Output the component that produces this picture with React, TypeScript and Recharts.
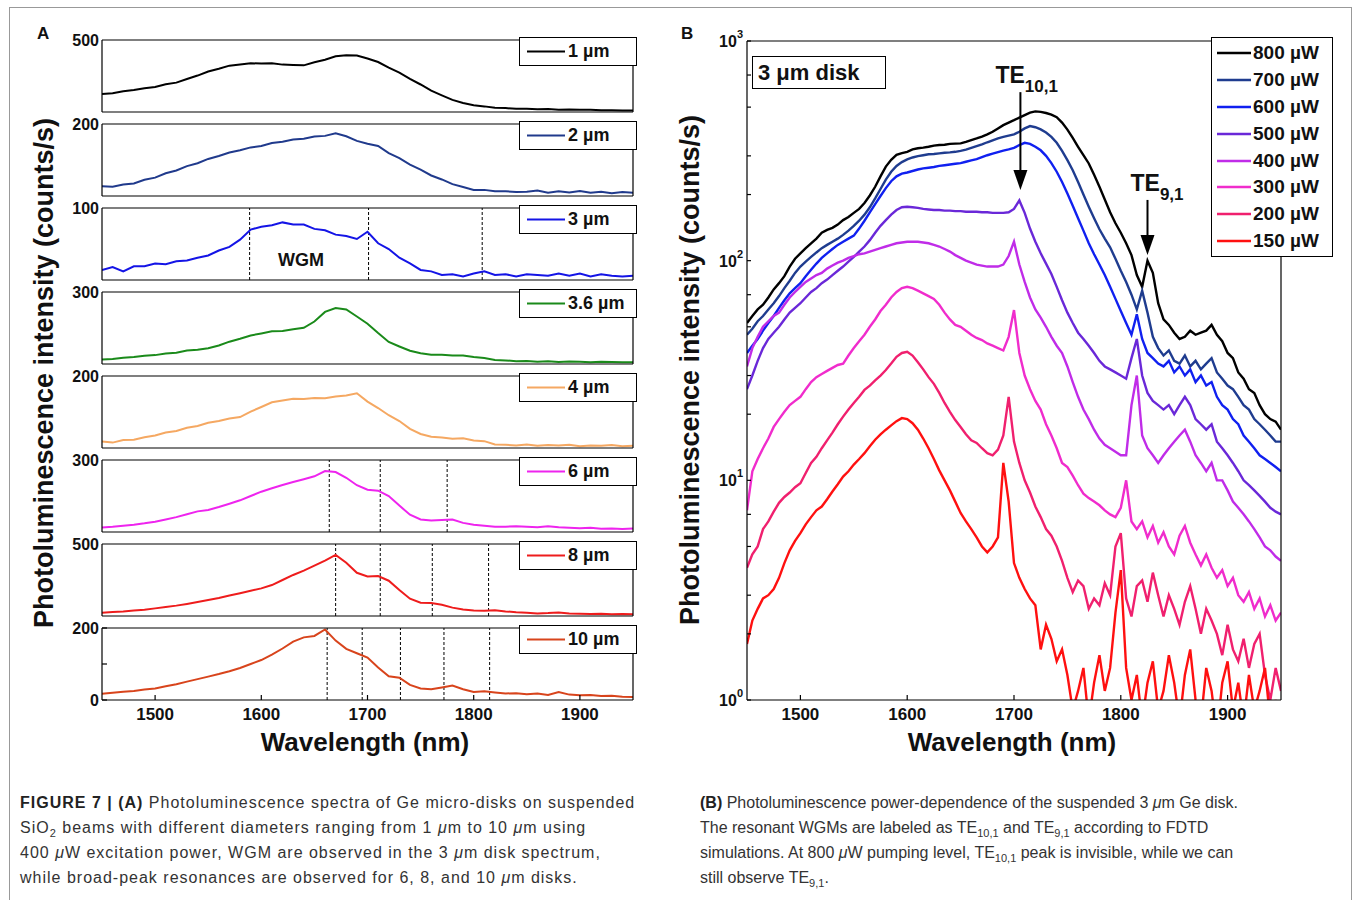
import React from 'react';
import { LineChart, Line, XAxis, YAxis, ReferenceLine, ReferenceDot, Legend } from 'recharts';

const FONT = '"Liberation Sans", Arial, Helvetica, sans-serif';

// ---------- Panel A data (wavelength grid, nm) ----------
const wavelengthsA = [
  1450, 1460, 1470, 1480, 1490, 1500, 1510, 1520, 1530, 1540,
  1550, 1560, 1570, 1580, 1590, 1600, 1610, 1620, 1630, 1640,
  1650, 1660, 1670, 1680, 1690, 1700, 1710, 1720, 1730, 1740,
  1750, 1760, 1770, 1780, 1790, 1800, 1810, 1820, 1830, 1840,
  1850, 1860, 1870, 1880, 1890, 1900, 1910, 1920, 1930, 1940,
  1950,
];
const disk1um = [
  125, 131, 144, 153, 165, 174, 192, 204, 229, 253,
  281, 300, 322, 330, 339, 336, 338, 329, 326, 324,
  346, 363, 387, 394, 392, 371, 347, 308, 274, 230,
  191, 148, 116, 84, 63, 47, 39, 29, 27, 22,
  23, 19, 20, 16, 18, 15, 15, 12, 13, 10,
  11,
];
const disk2um = [
  27, 26, 32, 35, 45, 51, 63, 71, 83, 91,
  103, 111, 121, 127, 135, 139, 147, 151, 157, 159,
  165, 167, 174, 166, 153, 145, 139, 119, 105, 87,
  73, 57, 46, 33, 25, 17, 17, 13, 13, 11,
  12, 15, 9, 13, 10, 14, 9, 12, 8, 11,
  9,
];
const disk3um = [
  14, 18, 12, 19, 19, 23, 22, 26, 27, 31,
  34, 41, 46, 56, 70, 74, 76, 80, 77, 77,
  71, 69, 63, 61, 57, 67, 51, 43, 31, 23,
  14, 12, 7, 8, 5, 9, 12, 7, 8, 5,
  8, 7, 6, 9, 6, 9, 5, 8, 6, 5,
  6,
];
const disk36um = [
  19, 21, 26, 29, 34, 37, 44, 47, 56, 59,
  66, 77, 93, 105, 119, 127, 136, 138, 145, 151,
  177, 217, 233, 227, 198, 168, 129, 92, 73, 55,
  45, 39, 39, 35, 35, 29, 25, 17, 15, 11,
  12, 9, 11, 8, 10, 9, 7, 9, 8, 7,
  7,
];
const disk4um = [
  18, 15, 22, 23, 30, 35, 43, 47, 56, 61,
  70, 75, 82, 86, 101, 114, 127, 132, 137, 136,
  139, 138, 143, 146, 152, 129, 111, 91, 75, 53,
  39, 31, 29, 26, 27, 21, 19, 10, 9, 7,
  10, 6, 8, 7, 9, 5, 7, 6, 8, 5,
  6,
];
const disk6um = [
  19, 22, 26, 30, 36, 43, 52, 62, 74, 86,
  92, 104, 118, 132, 150, 168, 182, 196, 208, 220,
  232, 254, 250, 226, 195, 176, 172, 150, 110, 72,
  52, 48, 50, 52, 38, 30, 26, 22, 22, 24,
  22, 20, 24, 20, 18, 16, 18, 14, 15, 13,
  15,
];
const disk8um = [
  23, 28, 32, 38, 44, 53, 62, 72, 84, 97,
  111, 125, 142, 158, 175, 192, 215, 250, 285, 315,
  350, 385, 424, 370, 300, 275, 278, 245, 180, 120,
  92, 90, 78, 58, 45, 38, 36, 40, 32, 26,
  22, 18, 20, 24, 18, 16, 14, 16, 13, 14,
  12,
];
const disk10um = [
  17, 20, 23, 25, 29, 32, 38, 44, 51, 58,
  65, 72, 80, 89, 100, 111, 126, 143, 162, 174,
  178, 196, 165, 142, 130, 118, 90, 66, 62, 42,
  32, 30, 35, 40, 30, 22, 24, 21, 18, 19,
  16, 18, 14, 22, 15, 13, 14, 11, 12, 9,
  8,
];
const diskLabels = ['1 µm', '2 µm', '3 µm', '3.6 µm', '4 µm', '6 µm', '8 µm', '10 µm'];
const diskSeries = [disk1um, disk2um, disk3um, disk36um, disk4um, disk6um, disk8um, disk10um];
const diskTopTicks = [500, 200, 100, 300, 200, 300, 500, 200];
const diskResonances = [
  [], [], [1589, 1701, 1808], [], [],
  [1664, 1712, 1775], [1670, 1712, 1761, 1814], [1662, 1695, 1731, 1772, 1815],
];
const wavelengthTicks = [1500, 1600, 1700, 1800, 1900];

// ---------- Panel B data (3 µm disk, power dependence) ----------
const wavelengthsB = [
  1450, 1455, 1460, 1465, 1470, 1475, 1480, 1485, 1490, 1495,
  1500, 1505, 1510, 1515, 1520, 1525, 1530, 1535, 1540, 1545,
  1550, 1555, 1560, 1565, 1570, 1575, 1580, 1585, 1590, 1595,
  1600, 1605, 1610, 1615, 1620, 1625, 1630, 1635, 1640, 1645,
  1650, 1655, 1660, 1665, 1670, 1675, 1680, 1685, 1690, 1695,
  1700, 1705, 1710, 1715, 1720, 1725, 1730, 1735, 1740, 1745,
  1750, 1755, 1760, 1765, 1770, 1775, 1780, 1785, 1790, 1795,
  1800, 1805, 1810, 1815, 1820, 1825, 1830, 1835, 1840, 1845,
  1850, 1855, 1860, 1865, 1870, 1875, 1880, 1885, 1890, 1895,
  1900, 1905, 1910, 1915, 1920, 1925, 1930, 1935, 1940, 1945,
  1950,
];
const pump800 = [
  52, 56, 60, 63, 68, 74, 79, 85, 94, 102,
  108, 114, 120, 126, 134, 138, 141, 146, 153, 158,
  165, 172, 183, 198, 217, 242, 268, 288, 303, 309,
  313, 321, 325, 327, 330, 334, 336, 337, 340, 341,
  342, 347, 354, 360, 367, 376, 386, 400, 414, 425,
  436, 448, 460, 472, 478, 476, 470, 462, 450, 425,
  395, 362, 330, 302, 277, 246, 217, 190, 166, 148,
  134, 120, 106, 86, 76, 100, 88, 64, 54, 51,
  47, 44, 45, 48, 46, 47, 48, 51, 46, 43,
  38, 36, 31, 29, 26, 25, 22, 20, 19, 18.5,
  17,
];
const pump700 = [
  46, 49, 53, 56, 60, 64, 69, 75, 81, 88,
  94, 99, 104, 109, 114, 118, 122, 126, 131, 137,
  144, 152, 162, 175, 192, 212, 234, 254, 270, 281,
  289, 295, 299, 302, 305, 306, 308, 310, 311, 313,
  316, 320, 326, 332, 338, 346, 353, 360, 366, 371,
  376, 386, 400, 410, 405, 396, 383, 366, 344, 316,
  287, 258, 228, 200, 176, 156, 139, 126, 115, 102,
  90, 80, 70, 60, 73, 58, 45, 40, 37, 39,
  35, 34, 37, 33, 35, 32, 34, 36, 31, 29,
  27, 26, 24, 22, 21, 19, 18, 17, 16, 15,
  15,
];
const pump600 = [
  38, 41, 44, 48, 52, 56, 61, 66, 71, 75,
  79, 85, 91, 97, 103, 108, 113, 118, 122, 126,
  130, 140, 152, 166, 181, 197, 214, 230, 242, 249,
  252, 256, 260, 263, 265, 267, 270, 272, 274, 276,
  278, 282, 286, 290, 296, 302, 307, 312, 317, 321,
  326, 336, 344, 340, 330, 318, 300, 278, 254, 228,
  202, 178, 156, 137, 120, 107, 96, 86, 76, 67,
  59, 52, 46, 57, 44, 38, 36, 34, 33, 35,
  31, 33, 30, 32, 28, 30, 27, 28, 24, 22,
  21, 19, 18, 16, 15, 14, 13, 12.5, 12, 11.5,
  11,
];
const pump500 = [
  26, 30, 35, 40, 44, 47, 50, 54, 58, 61,
  64, 68, 72, 75, 79, 82, 86, 90, 94, 99,
  104, 110, 116, 124, 134, 144, 153, 162, 170, 175,
  176, 175, 174, 172, 171, 170, 170, 169, 169, 168,
  168, 167, 167, 167, 166, 166, 165, 165, 165, 166,
  172, 188, 165, 140, 122, 108, 97, 87, 76, 66,
  58, 52, 47, 44, 41, 38, 35, 33, 32, 31,
  30, 29, 36, 44, 30, 25, 23, 22, 21, 22,
  20, 22, 24, 22, 19, 18, 17, 18, 15, 14,
  13, 12, 11, 10, 9.5, 9, 8.5, 8, 7.5, 7.2,
  7,
];
const pump400 = [
  33, 40, 45, 50, 53, 56, 58, 63, 68, 72,
  76, 80, 83, 86, 88, 92, 95, 98, 100, 103,
  105, 107, 108, 110, 112, 114, 116, 118, 120, 121,
  122, 122, 122, 121, 120, 118, 116, 113, 110, 106,
  103, 100, 98, 96, 95, 94, 94, 94, 96, 105,
  122, 96, 80, 68, 60, 55, 50, 45, 41, 38,
  33, 28, 24, 21, 19, 17, 15.5, 14.5, 14, 13.5,
  13, 13, 22, 30, 16, 14, 13, 12, 13, 14,
  15, 16, 17, 15, 13, 12, 11, 12, 10, 10,
  9, 8, 7.5, 7, 6.5, 6, 5.5, 5, 4.8, 4.5,
  4.3,
];
const pump300 = [
  7.3, 11, 12.5, 14, 15.5, 17.5, 19, 20.5, 22, 23,
  24, 26, 28, 29.5, 30.5, 31.5, 32.5, 33.5, 34, 37,
  40, 43, 46, 50, 54, 59, 63, 68, 72, 75,
  76, 75, 73, 71, 69, 67, 63, 58, 54, 51,
  50, 48, 46, 44.5, 43.5, 42, 41, 40, 39, 45,
  59.6, 38, 30, 26, 23, 21, 18, 16, 14, 12,
  11.5, 10.5, 9.5, 8.7, 8.3, 8, 7.7, 7.3, 7, 6.8,
  7.5, 10, 6.5, 6, 6.5, 5.5, 6.2, 5.2, 5.8, 5,
  4.6, 5.6, 6.2, 5.2, 4.6, 4.1, 4.6, 4, 3.6, 3.9,
  3.3, 3.6, 3, 2.8, 3.1, 2.6, 2.9, 2.4, 2.7, 2.3,
  2.5,
];
const pump200 = [
  4.0, 4.6, 5.0, 6.0, 6.5, 7.2, 7.9, 8.4, 8.8, 9.3,
  9.7, 10.8, 12.0, 12.8, 14.0, 15.2, 16.5, 18.0, 19.5, 21.0,
  22.5, 24.0, 25.8, 27.0, 28.5, 30.0, 31.8, 34.0, 36.5, 38.0,
  38.5, 37.0, 34.5, 32.0, 29.5, 27.5, 25.0, 22.5, 20.5, 18.8,
  17.5, 16.2, 15.2, 14.8, 14.0, 13.3, 13.0, 13.8, 16.0, 24.0,
  15.0, 12.0, 10.0, 8.8, 7.6, 6.8, 6.0, 5.6, 5.0, 4.3,
  3.6, 3.1, 3.5, 3.3, 2.6, 2.9, 2.7, 3.4, 3.0, 5.0,
  5.75, 2.9, 2.4, 3.3, 3.5, 2.8, 3.8, 3.0, 2.4, 3.0,
  2.6, 2.2, 2.8, 3.3, 2.6, 2.0, 2.6, 2.3, 2.0, 1.6,
  2.2, 1.7, 1.5, 1.9, 1.4, 1.8, 2.0, 1.3, 1.0, 1.4,
  1.1,
];
const pump150 = [
  1.8, 2.3, 2.6, 2.9, 3.0, 3.2, 3.6, 4.2, 4.8, 5.3,
  5.75, 6.3, 6.8, 7.3, 7.6, 8.2, 8.9, 9.6, 10.4, 11.0,
  11.8, 12.5, 13.3, 14.3, 15.3, 16.2, 17.0, 17.8, 18.6, 19.2,
  19.0, 18.2, 17.0, 15.5, 14.0, 12.5, 11.1, 10.0, 9.0, 8.0,
  7.1, 6.5, 6.0, 5.5, 5.0, 4.7, 5.0, 5.5, 12.0, 8.0,
  4.2, 3.6, 3.2, 2.9, 2.7, 1.7, 2.2, 1.9, 1.5, 1.7,
  1.3, 0.9, 1.1, 1.4, 0.8, 1.2, 1.6, 1.1, 1.4, 2.5,
  3.9, 1.4, 1.0, 1.3, 0.8, 1.2, 1.5, 0.9, 1.1, 1.6,
  1.2, 0.8, 1.3, 1.7, 1.0, 0.8, 1.4, 1.1, 0.7, 1.2,
  1.5, 0.9, 1.2, 0.8, 1.3, 0.9, 1.1, 1.4, 0.8, 1.0,
  0.7,
];
const pumpLabels = ['800 µW', '700 µW', '600 µW', '500 µW', '400 µW', '300 µW', '200 µW', '150 µW'];
const pumpSeries = [pump800, pump700, pump600, pump500, pump400, pump300, pump200, pump150];
const logTicks = [
  1, 2, 3, 4, 5, 6, 7, 8, 9,
  10, 20, 30, 40, 50, 60, 70, 80, 90,
  100, 200, 300, 400, 500, 600, 700, 800, 900, 1000,
];
// mode annotations: [wavelength, arrow top, arrow tip, label level]
const modeTE101 = [1706, 585, 210, 700];
const modeTE91 = [1825, 189, 106, 226];

// ---------- styles ----------
const diskColors = ['#000000', '#203a8c', '#1414e6', '#1a8a1a', '#f5a862', '#ee24ee', '#ee1c1c', '#d8441c'];
const pumpColors = ['#000000', '#1f3c8f', '#1020f0', '#6a28d8', '#c02ce8', '#f02ccc', '#f0206e', '#ff1010'];
const AXIS = { stroke: '#000', strokeWidth: 1.2 };
const tickStyleA = { fontSize: 16, fontWeight: 'bold', fill: '#111', fontFamily: FONT };
const tickStyleX = { fontSize: 17, fontWeight: 'bold', fill: '#111', fontFamily: FONT };

function DiskLegend({ label, color }: { label: string; color: string }) {
  return (
    <div style={{
      width: 118, height: 29, boxSizing: 'border-box', border: '1.2px solid #000', background: '#fff',
      display: 'flex', alignItems: 'center', fontFamily: FONT,
    }}>
      <svg width={48} height={27} style={{ display: 'block' }}>
        <line x1={7} x2={45} y1={13.5} y2={13.5} stroke={color} strokeWidth={2.2} />
      </svg>
      <span style={{ fontWeight: 'bold', fontSize: 18, color: '#111', whiteSpace: 'nowrap' }}>{label}</span>
    </div>
  );
}

function DiskPlot({ idx }: { idx: number }) {
  const plotTop = 40 + 84 * idx;
  const last = idx === 7;
  const top = diskTopTicks[idx];
  const values = diskSeries[idx];
  const data = wavelengthsA.map((w, i) => ({ w, v: values[i] }));
  const height = 10 + 72 + (last ? 34 : 1) + 2;
  return (
    <div style={{ position: 'absolute', left: 30, top: plotTop - 10 }}>
      <LineChart width={613} height={height} data={data} margin={{ top: 9, right: 9, bottom: 2, left: 0 }}>
        <XAxis dataKey="w" type="number" domain={[1450, 1950]} allowDataOverflow ticks={wavelengthTicks}
          height={last ? 34 : 1} tick={last ? tickStyleX : false} tickLine={last ? AXIS : false}
          tickSize={last ? -5 : 0} tickMargin={13} axisLine={AXIS} />
        <XAxis xAxisId="t" dataKey="w" orientation="top" type="number" domain={[1450, 1950]} allowDataOverflow
          ticks={wavelengthTicks} height={1} tick={false} tickLine={last ? AXIS : false} tickSize={-5} axisLine={AXIS} />
        <YAxis type="number" domain={[0, top]} allowDataOverflow ticks={last ? [0, 100, 200] : [top]} width={72}
          tick={tickStyleA} tickLine={last ? AXIS : false} tickSize={last ? -5 : 0} tickMargin={last ? 8 : 3}
          tickFormatter={(v: number) => (last && v === 100 ? '' : String(v))} axisLine={AXIS} />
        <YAxis yAxisId="r" orientation="right" type="number" domain={[0, top]} allowDataOverflow
          ticks={last ? [100] : [top]} width={1} tick={false} tickLine={last ? AXIS : false} tickSize={-5} axisLine={AXIS} />
        {diskResonances[idx].map((x) => (
          <ReferenceLine key={x} x={x} stroke="#000" strokeWidth={1} strokeDasharray="3 2" />
        ))}
        <Line xAxisId="t" yAxisId="r" dataKey="v" stroke="none" strokeWidth={0} dot={false} activeDot={false}
          legendType="none" isAnimationActive={false} />
        <Line dataKey="v" name={diskLabels[idx]} stroke={diskColors[idx]} strokeWidth={2} dot={false}
          isAnimationActive={false} />
        <Legend layout="horizontal" verticalAlign="middle" align="center"
          wrapperStyle={{ left: 489, top: 7, width: 118, height: 29 }}
          content={() => <DiskLegend label={diskLabels[idx]} color={diskColors[idx]} />} />
      </LineChart>
    </div>
  );
}

function LogTick(props: any) {
  const { x, y, payload } = props;
  const v = payload.value;
  const e = Math.log10(v);
  const r = Math.round(e);
  if (Math.abs(e - r) > 1e-6) return <g />;
  return (
    <text x={x} y={y + 6} textAnchor="end" fontSize={16} fontWeight="bold" fill="#111" fontFamily={FONT}>
      10<tspan dy={-9} fontSize={11}>{r}</tspan>
    </text>
  );
}

function ArrowHead(props: any) {
  const { cx, cy } = props;
  return <path d={`M${cx - 7},${cy - 20} L${cx + 7},${cy - 20} L${cx},${cy} Z`} fill="#000" />;
}

function ModeLabel(sub: string, dx: number) {
  return (props: any) => {
    const { cx, cy } = props;
    return (
      <text x={cx + dx} y={cy + 8} fontSize={23} fontWeight="bold" fill="#111" fontFamily={FONT}>
        TE<tspan dy={9} fontSize={17}>{sub}</tspan>
      </text>
    );
  };
}

function PumpLegend() {
  return (
    <div style={{
      width: 122, height: 220, boxSizing: 'border-box', border: '1.2px solid #000', background: '#fff',
      padding: '2px 0 0 0', fontFamily: FONT,
    }}>
      {pumpLabels.map((l, i) => (
        <div key={l} style={{ display: 'flex', alignItems: 'center', height: 26.8 }}>
          <svg width={41} height={20} style={{ display: 'block' }}>
            <line x1={5} x2={39} y1={10} y2={10} stroke={pumpColors[i]} strokeWidth={2.4} />
          </svg>
          <span style={{ fontWeight: 'bold', fontSize: 19, color: '#111', whiteSpace: 'nowrap' }}>{l}</span>
        </div>
      ))}
    </div>
  );
}

function PumpPlot() {
  const data = wavelengthsB.map((w, i) => {
    const row: Record<string, number> = { w };
    pumpSeries.forEach((s, j) => { row['p' + j] = s[i]; });
    return row;
  });
  return (
    <div style={{ position: 'absolute', left: 680, top: 21 }}>
      <LineChart width={611} height={714} data={data} margin={{ top: 19, right: 9, bottom: 5, left: 0 }}>
        <XAxis dataKey="w" type="number" domain={[1450, 1950]} allowDataOverflow ticks={wavelengthTicks}
          height={30} tick={tickStyleX} tickLine={AXIS} tickSize={-5} tickMargin={13} axisLine={AXIS} />
        <XAxis xAxisId="t" dataKey="w" orientation="top" type="number" domain={[1450, 1950]} allowDataOverflow
          ticks={wavelengthTicks} height={1} tick={false} tickLine={AXIS} tickSize={-5} axisLine={AXIS} />
        <YAxis type="number" scale="log" domain={[1, 1000]} allowDataOverflow ticks={logTicks} width={67}
          tick={(p: any) => <LogTick {...p} />} tickLine={AXIS} tickSize={-4} tickMargin={8} axisLine={AXIS} />
        <YAxis yAxisId="r" orientation="right" type="number" scale="log" domain={[1, 1000]} allowDataOverflow
          ticks={logTicks} width={1} tick={false} tickLine={AXIS} tickSize={-4} axisLine={AXIS} />
        <Line xAxisId="t" yAxisId="r" dataKey="p0" stroke="none" strokeWidth={0} dot={false} activeDot={false}
          legendType="none" isAnimationActive={false} />
        {pumpSeries.map((_, j) => (
          <Line key={j} dataKey={'p' + j} name={pumpLabels[j]} stroke={pumpColors[j]} strokeWidth={2.4}
            dot={false} isAnimationActive={false} />
        ))}
        <ReferenceLine segment={[{ x: modeTE101[0], y: modeTE101[1] }, { x: modeTE101[0], y: 250 }]}
          stroke="#000" strokeWidth={2} />
        <ReferenceDot x={modeTE101[0]} y={modeTE101[2]} r={0} shape={(p: any) => <ArrowHead {...p} />} />
        <ReferenceDot x={modeTE101[0]} y={modeTE101[3]} r={0} shape={ModeLabel('10,1', -25)} />
        <ReferenceLine segment={[{ x: modeTE91[0], y: modeTE91[1] }, { x: modeTE91[0], y: 122 }]}
          stroke="#000" strokeWidth={2} />
        <ReferenceDot x={modeTE91[0]} y={modeTE91[2]} r={0} shape={(p: any) => <ArrowHead {...p} />} />
        <ReferenceDot x={modeTE91[0]} y={modeTE91[3]} r={0} shape={ModeLabel('9,1', -17)} />
        <Legend layout="horizontal" verticalAlign="middle" align="center"
          wrapperStyle={{ left: 531, top: 16, width: 122, height: 220 }}
          content={() => <PumpLegend />} />
      </LineChart>
    </div>
  );
}

const capStyle: React.CSSProperties = {
  position: 'absolute', fontSize: 16, lineHeight: '20px', color: '#333', whiteSpace: 'nowrap', fontFamily: FONT,
};
const capLeft: React.CSSProperties = { ...capStyle, left: 20, letterSpacing: '1px' };
const capRight: React.CSSProperties = { ...capStyle, left: 700 };
const mu = <i>μ</i>;

export default function App() {
  return (
    <div style={{ position: 'absolute', left: 0, top: 0, width: 1354, height: 900, background: '#fff', overflow: 'hidden', fontFamily: FONT }}>
      <div style={{ position: 'absolute', left: 9, top: 7, width: 1341, height: 900, borderLeft: '1px solid #999', borderTop: '1px solid #999', borderRight: '1px solid #999' }} />
      <div style={{ position: 'absolute', left: 37, top: 24, fontSize: 17, fontWeight: 'bold', color: '#111' }}>A</div>
      <div style={{ position: 'absolute', left: 681, top: 24, fontSize: 17, fontWeight: 'bold', color: '#111' }}>B</div>

      {diskSeries.map((_, i) => <DiskPlot key={i} idx={i} />)}
      <div style={{ position: 'absolute', left: 278, top: 250, fontSize: 18, fontWeight: 'bold', color: '#111' }}>WGM</div>
      <div style={{ position: 'absolute', left: 44 - 300, top: 373 - 16, width: 600, height: 32, lineHeight: '32px', textAlign: 'center', transform: 'rotate(-90deg)', fontSize: 27, fontWeight: 'bold', color: '#111', whiteSpace: 'nowrap' }}>
        Photoluminescence intensity (counts/s)
      </div>
      <div style={{ position: 'absolute', left: 365 - 200, top: 742 - 16, width: 400, height: 32, lineHeight: '32px', textAlign: 'center', fontSize: 26, fontWeight: 'bold', color: '#111' }}>
        Wavelength (nm)
      </div>

      <PumpPlot />
      <div style={{ position: 'absolute', left: 752, top: 56, width: 134, height: 33, boxSizing: 'border-box', border: '1.2px solid #000', background: '#fff', fontSize: 22, fontWeight: 'bold', lineHeight: '31px', paddingLeft: 5, color: '#111', whiteSpace: 'nowrap' }}>
        3 μm disk
      </div>
      <div style={{ position: 'absolute', left: 690 - 300, top: 370 - 16, width: 600, height: 32, lineHeight: '32px', textAlign: 'center', transform: 'rotate(-90deg)', fontSize: 27, fontWeight: 'bold', color: '#111', whiteSpace: 'nowrap' }}>
        Photoluminescence intensity (counts/s)
      </div>
      <div style={{ position: 'absolute', left: 1012 - 200, top: 742 - 16, width: 400, height: 32, lineHeight: '32px', textAlign: 'center', fontSize: 26, fontWeight: 'bold', color: '#111' }}>
        Wavelength (nm)
      </div>

      <div style={{ ...capLeft, top: 793 }}><b style={{ color: '#222' }}>FIGURE 7 | (A)</b> Photoluminescence spectra of Ge micro-disks on suspended</div>
      <div style={{ ...capLeft, top: 818 }}>SiO<sub style={{ fontSize: 11 }}>2</sub> beams with different diameters ranging from 1 {mu}m to 10 {mu}m using</div>
      <div style={{ ...capLeft, top: 843 }}>400 {mu}W excitation power, WGM are observed in the 3 {mu}m disk spectrum,</div>
      <div style={{ ...capLeft, top: 868 }}>while broad-peak resonances are observed for 6, 8, and 10 {mu}m disks.</div>

      <div style={{ ...capRight, top: 793 }}><b style={{ color: '#222' }}>(B)</b> Photoluminescence power-dependence of the suspended 3 {mu}m Ge disk.</div>
      <div style={{ ...capRight, top: 818 }}>The resonant WGMs are labeled as TE<sub style={{ fontSize: 11 }}>10,1</sub> and TE<sub style={{ fontSize: 11 }}>9,1</sub> according to FDTD</div>
      <div style={{ ...capRight, top: 843 }}>simulations. At 800 {mu}W pumping level, TE<sub style={{ fontSize: 11 }}>10,1</sub> peak is invisible, while we can</div>
      <div style={{ ...capRight, top: 868 }}>still observe TE<sub style={{ fontSize: 11 }}>9,1</sub>.</div>
    </div>
  );
}
